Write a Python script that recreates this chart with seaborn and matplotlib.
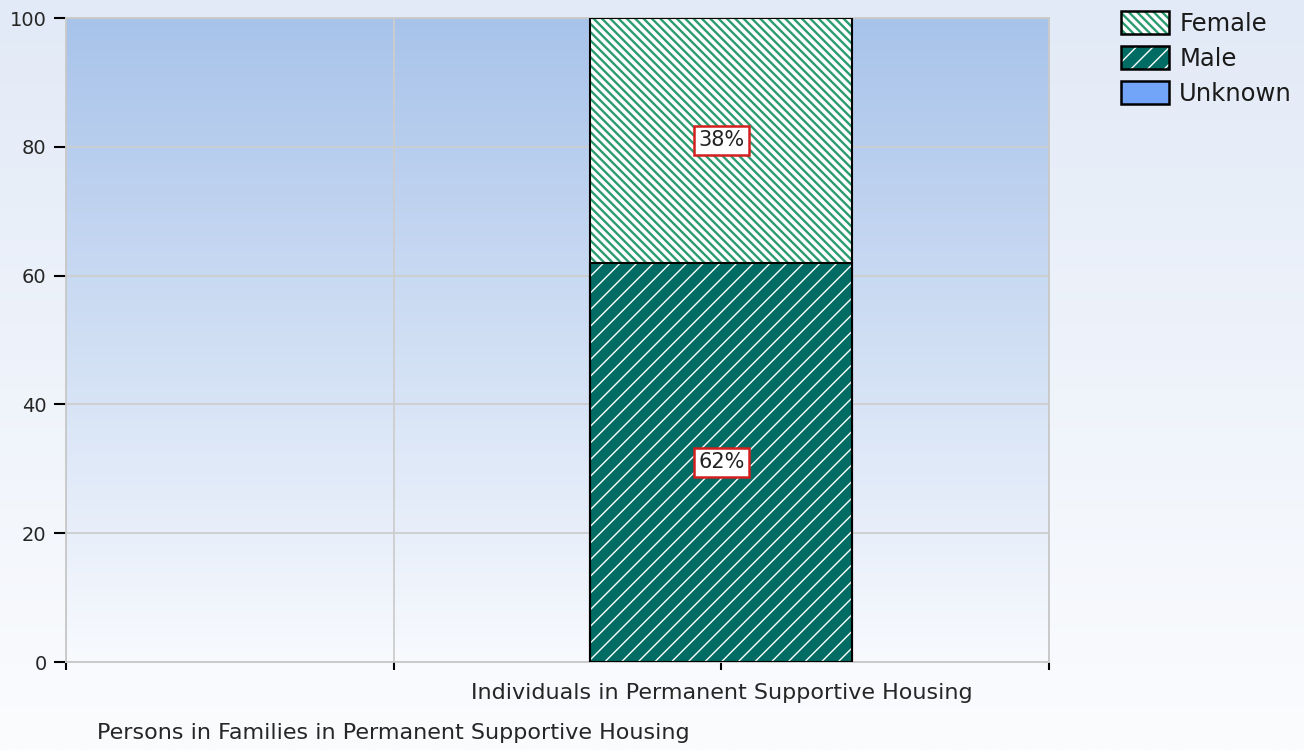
import numpy as np
import pandas as pd
import matplotlib
matplotlib.use("Agg")
import matplotlib.pyplot as plt
from matplotlib.patches import Patch
from matplotlib.legend_handler import HandlerTuple, HandlerPatch
from matplotlib.colors import LinearSegmentedColormap
import seaborn as sns

categories = ["Persons in Families in Permanent Supportive Housing",
              "Individuals in Permanent Supportive Housing"]
female = [0, 38]
male = [0, 62]
unknown = [0, 0]
series_names = ["Female", "Male", "Unknown"]
yticks = [0, 20, 40, 60, 80, 100]

FEMALE_C = "#2a9c6f"
MALE_C = "#006c64"
UNKNOWN_C = "#72a5f7"
FEMALE_HATCH = "\\\\\\\\"
MALE_HATCH = "//"
FEMALE_HLW = 1.7
MALE_HLW = 1.0

sns.set_theme(style="white")
plt.rcParams["font.family"] = ["DejaVu Sans"]
plt.rcParams["text.color"] = "#1a1a1a"


def wrap_hatch_lw(artist, lw):
    if hasattr(artist, "set_hatch_linewidth"):
        artist.set_hatch_linewidth(lw)
    orig = artist.draw

    def draw(renderer, _orig=orig, _lw=lw):
        with plt.rc_context({"hatch.linewidth": _lw}):
            _orig(renderer)
    artist.draw = draw


class HatchHandler(HandlerPatch):
    def __init__(self, lw, **kw):
        super().__init__(**kw)
        self.lw = lw

    def create_artists(self, *args, **kwargs):
        arts = super().create_artists(*args, **kwargs)
        for a in arts:
            wrap_hatch_lw(a, self.lw)
        return arts


fig = plt.figure(figsize=(13.04, 7.5), dpi=100)

# figure background gradient
bg = fig.add_axes([0, 0, 1, 1], zorder=-10)
bg_cmap = LinearSegmentedColormap.from_list("bg", ["#fbfcfe", "#e2eaf7"])
bg.imshow(np.linspace(0, 1, 256).reshape(-1, 1)[::-1], cmap=bg_cmap, aspect="auto",
          extent=[0, 1, 0, 1])
bg.axis("off")

ax = fig.add_axes([66 / 1304, 1 - 662 / 750, (1049 - 66) / 1304, (662 - 18) / 750])
ax.set_facecolor("none")
pa_cmap = LinearSegmentedColormap.from_list("pa", ["#f8fafe", "#a8c3ea"])
ax.imshow(np.linspace(0, 1, 256).reshape(-1, 1)[::-1], cmap=pa_cmap, aspect="auto",
          extent=[0, 1, 0, 1], transform=ax.transAxes, zorder=-2)

df = pd.DataFrame({"category": categories, "female": female, "male": male, "unknown": unknown})
df["top_female"] = df["male"] + df["female"] + df["unknown"]
df["top_male"] = df["male"] + df["unknown"]


def draw_layer(col, face, hatch, hcolor, hlw):
    n0 = len(ax.patches)
    sns.barplot(data=df, x="category", y=col, order=categories, color=face,
                saturation=1, width=0.8, ax=ax, linewidth=0,
                edgecolor=hcolor, zorder=2)
    for p in ax.patches[n0:]:
        p.set_facecolor(face)
        p.set_edgecolor(hcolor)
        p.set_hatch(hatch)
        p.set_linewidth(0)
        wrap_hatch_lw(p, hlw)
        if p.get_height() == 0:
            p.set_visible(False)
    n1 = len(ax.patches)
    sns.barplot(data=df, x="category", y=col, order=categories, color="white",
                saturation=1, width=0.8, ax=ax, linewidth=1.5,
                edgecolor="black", zorder=3)
    for p in ax.patches[n1:]:
        p.set_facecolor("none")
        p.set_edgecolor("black")
        if p.get_height() == 0:
            p.set_visible(False)


draw_layer("top_female", "white", FEMALE_HATCH, FEMALE_C, FEMALE_HLW)
draw_layer("top_male", MALE_C, MALE_HATCH, "white", MALE_HLW)

# value labels
for i, cat in enumerate(categories):
    segs = [(male[i], 0), (female[i], male[i])]
    for val, base in segs:
        if val > 0:
            ax.text(i, base + val / 2, f"{val}%", ha="center", va="center", fontsize=15,
                    color="#222222", zorder=5,
                    bbox=dict(boxstyle="square,pad=0.22", fc="white", ec="#d42020", lw=1.8))

ax.set_xlim(-1, 2)
ax.set_ylim(0, 100)
ax.set_yticks(yticks)
ax.set_yticklabels([str(v) for v in yticks], fontsize=14)
ax.set_xticks([-1, 0, 1, 2])
ax.set_xticklabels(["", categories[0], categories[1], ""], fontsize=16)
ax.set_xlabel("")
ax.set_ylabel("")

ax.grid(True, color="#cdcdcd", linewidth=1.3)
ax.set_axisbelow(True)
for s in ax.spines.values():
    s.set_color("#c8c8c8")
    s.set_linewidth(1.3)
ax.tick_params(axis="y", direction="out", length=9, width=1.5, color="black", pad=5, left=True)
ax.tick_params(axis="x", direction="out", length=6, width=1.5, color="black", pad=9, bottom=True)
# stagger: second row for the first category label
ax.xaxis.get_major_ticks()[1].set_pad(9 + 40 * 0.72)

# legend
handles = []
hmap = {tuple: HandlerTuple(ndivide=1, pad=0)}
for name, face, hatch, hc, hlw in [("Female", "white", FEMALE_HATCH, FEMALE_C, FEMALE_HLW),
                                   ("Male", MALE_C, MALE_HATCH, "white", MALE_HLW),
                                   ("Unknown", UNKNOWN_C, None, UNKNOWN_C, 1.0)]:
    p1 = Patch(facecolor=face, edgecolor=hc, hatch=hatch, linewidth=0)
    p2 = Patch(facecolor="none", edgecolor="black", linewidth=1.8)
    hmap[p1] = HatchHandler(hlw)
    handles.append((p1, p2))
leg = fig.legend(handles, series_names, handler_map=hmap,
                 loc="upper left", bbox_to_anchor=(1116 / 1304, 1 - 6 / 750), frameon=False,
                 fontsize=17.5, handlelength=2.0, handleheight=1.1, labelspacing=0.42,
                 handletextpad=0.4, borderaxespad=0, borderpad=0.2)

fig.savefig("out.png", dpi=100)
